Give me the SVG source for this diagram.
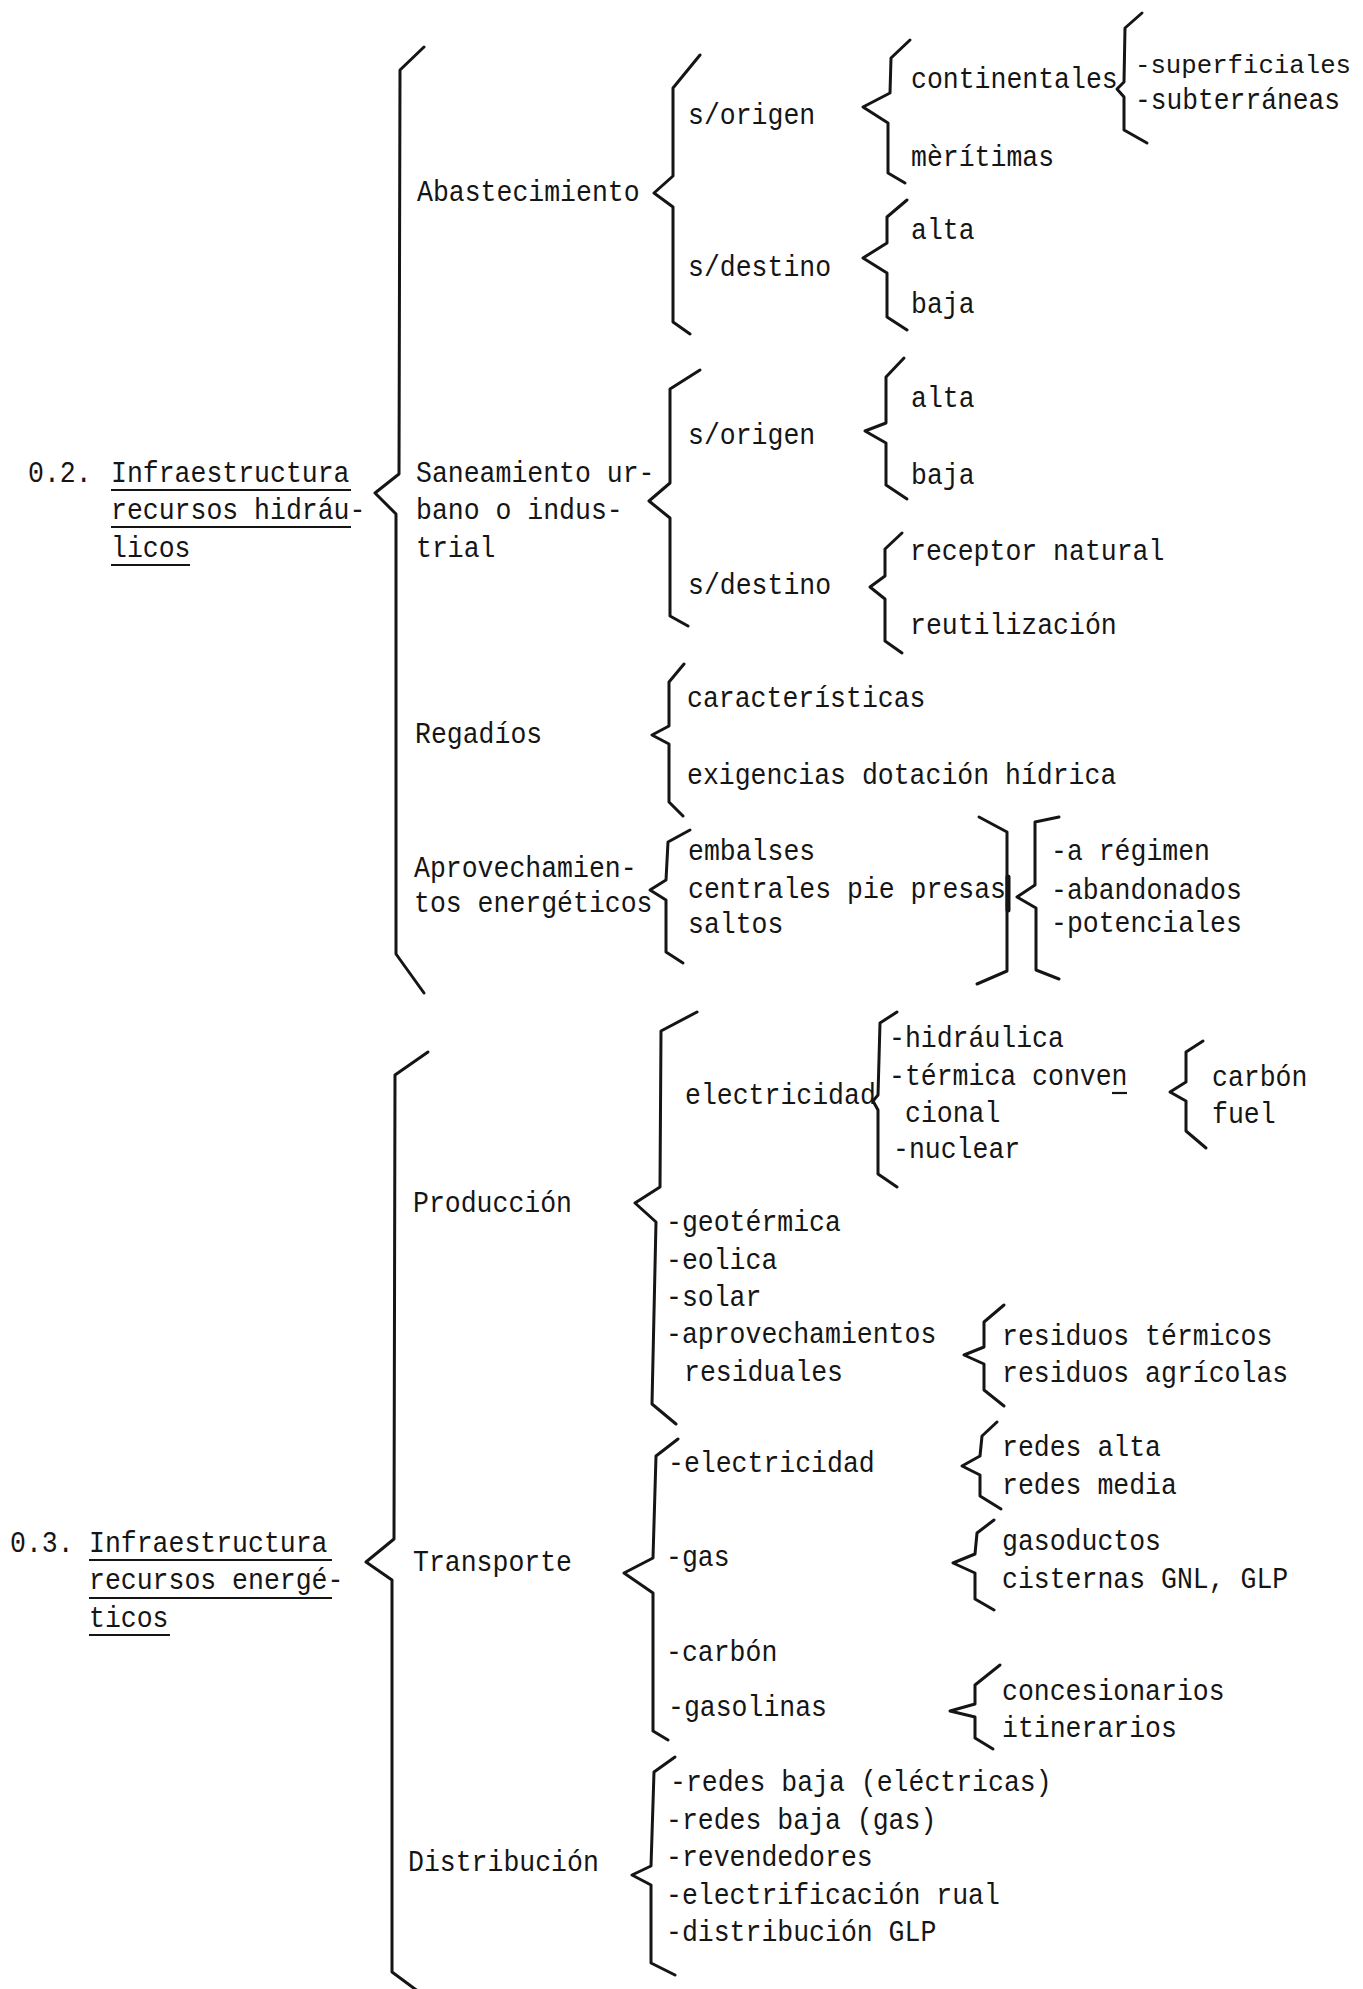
<svg xmlns="http://www.w3.org/2000/svg" width="1363" height="1989" viewBox="0 0 1363 1989">
<style>
text{font-family:"Liberation Mono","DejaVu Sans Mono",monospace;font-size:29px;fill:#151515}
.br{fill:none;stroke:#151515;stroke-width:3;stroke-linecap:round;stroke-linejoin:round}
.ul{stroke:#151515;stroke-width:2.2}
</style>
<rect width="1363" height="1989" fill="#fff"/>
<g id="connectors">
<path class="br" d="M424,47 L400,70 L399,474 L375,493 L396,514 L396,954 L424,993"/>
<path class="br" d="M700,55 L673,88 L673,176 L654,193 L673,207 L673,322 L690,334"/>
<path class="br" d="M910,40 L891,58 L890,93 L863,107 L888,123 L888,173 L905,183"/>
<path class="br" d="M1142,13 L1125,28 L1124,82 L1117,89 L1124,97 L1124,130 L1147,143"/>
<path class="br" d="M907,200 L887,217 L887,243 L863,258 L887,273 L887,317 L907,330"/>
<path class="br" d="M700,370 L670,389 L670,483 L649,501 L670,518 L670,616 L688,626"/>
<path class="br" d="M904,358 L886,377 L886,423 L865,431 L886,443 L886,485 L907,499"/>
<path class="br" d="M902,533 L885,549 L885,576 L870,587 L885,599 L885,641 L902,653"/>
<path class="br" d="M684,664 L669,682 L669,726 L652,735 L669,744 L669,802 L683,816"/>
<path class="br" d="M690,830 L668,842 L666,880 L650,890 L666,900 L666,952 L683,963"/>
<path class="br" d="M979,817 L1007,832 L1007,971 L977,984"/>
<path class="br" d="M1008,877 L1008,910" style="stroke-width:5"/>
<path class="br" d="M1059,817 L1035,822 L1035,885 L1017,897 L1036,908 L1036,970 L1059,979"/>
<path class="br" d="M428,1052 L395,1075 L394,1539 L366,1562 L392,1580 L392,1972 L419,1992"/>
<path class="br" d="M697,1012 L661,1031 L660,1187 L635,1203 L656,1222 L652,1404 L676,1424"/>
<path class="br" d="M897,1012 L880,1023 L878,1095 L873,1101 L878,1110 L878,1174 L897,1187"/>
<path class="br" d="M1203,1041 L1186,1052 L1186,1082 L1170,1092 L1186,1101 L1186,1131 L1206,1148"/>
<path class="br" d="M1004,1305 L984,1322 L984,1347 L964,1355 L984,1364 L984,1390 L1004,1406"/>
<path class="br" d="M678,1439 L656,1456 L653,1558 L624,1573 L653,1593 L653,1731 L668,1740"/>
<path class="br" d="M997,1422 L982,1436 L980,1456 L962,1466 L980,1475 L980,1496 L1001,1509"/>
<path class="br" d="M994,1520 L977,1533 L975,1554 L953,1563 L975,1573 L975,1599 L994,1610"/>
<path class="br" d="M1000,1665 L975,1685 L975,1704 L950,1711 L975,1717 L975,1738 L993,1749"/>
<path class="br" d="M675,1757 L654,1772 L651,1866 L632,1875 L651,1885 L651,1963 L675,1975"/>
</g>
<g id="n-02">
<text x="28" y="482" textLength="63.6" lengthAdjust="spacingAndGlyphs">0.2.</text>
<text x="111" y="482" textLength="238.5" lengthAdjust="spacingAndGlyphs">Infraestructura</text>
<text x="111" y="519" textLength="254.4" lengthAdjust="spacingAndGlyphs">recursos hidráu-</text>
<text x="111" y="557" textLength="79.5" lengthAdjust="spacingAndGlyphs">licos</text>
<line class="ul" x1="111" y1="490" x2="351" y2="490"/>
<line class="ul" x1="111" y1="527" x2="351" y2="527"/>
<line class="ul" x1="111" y1="565" x2="190" y2="565"/>
</g>
<g id="n-abastecimiento"><text x="417" y="201" textLength="222.6" lengthAdjust="spacingAndGlyphs">Abastecimiento</text></g>
<g id="n-origen1"><text x="688" y="124" textLength="127.2" lengthAdjust="spacingAndGlyphs">s/origen</text></g>
<g id="n-destino1"><text x="688" y="276" textLength="143.1" lengthAdjust="spacingAndGlyphs">s/destino</text></g>
<g id="n-continentales"><text x="911" y="88" textLength="206.7" lengthAdjust="spacingAndGlyphs">continentales</text></g>
<g id="n-maritimas"><text x="911" y="166" textLength="143.1" lengthAdjust="spacingAndGlyphs">mèrítimas</text></g>
<g id="n-superficiales"><text x="1135" y="73" style="font-size:26px" textLength="216" lengthAdjust="spacingAndGlyphs">-superficiales</text></g>
<g id="n-subterraneas"><text x="1135" y="109" textLength="205" lengthAdjust="spacingAndGlyphs">-subterráneas</text></g>
<g id="n-alta1"><text x="911" y="239" textLength="63.6" lengthAdjust="spacingAndGlyphs">alta</text></g>
<g id="n-baja1"><text x="911" y="313" textLength="63.6" lengthAdjust="spacingAndGlyphs">baja</text></g>
<g id="n-saneamiento">
<text x="416" y="482" textLength="238.5" lengthAdjust="spacingAndGlyphs">Saneamiento ur-</text>
<text x="416" y="519" textLength="206.7" lengthAdjust="spacingAndGlyphs">bano o indus-</text>
<text x="416" y="557" textLength="79.5" lengthAdjust="spacingAndGlyphs">trial</text>
</g>
<g id="n-origen2"><text x="688" y="444" textLength="127.2" lengthAdjust="spacingAndGlyphs">s/origen</text></g>
<g id="n-destino2"><text x="688" y="594" textLength="143.1" lengthAdjust="spacingAndGlyphs">s/destino</text></g>
<g id="n-alta2"><text x="911" y="407" textLength="63.6" lengthAdjust="spacingAndGlyphs">alta</text></g>
<g id="n-baja2"><text x="911" y="484" textLength="63.6" lengthAdjust="spacingAndGlyphs">baja</text></g>
<g id="n-receptor"><text x="910" y="560" textLength="254.4" lengthAdjust="spacingAndGlyphs">receptor natural</text></g>
<g id="n-reutilizacion"><text x="910" y="634" textLength="206.7" lengthAdjust="spacingAndGlyphs">reutilización</text></g>
<g id="n-regadios"><text x="415" y="743" textLength="127.2" lengthAdjust="spacingAndGlyphs">Regadíos</text></g>
<g id="n-caracteristicas"><text x="687" y="707" textLength="238.5" lengthAdjust="spacingAndGlyphs">características</text></g>
<g id="n-exigencias"><text x="687" y="784" textLength="429.3" lengthAdjust="spacingAndGlyphs">exigencias dotación hídrica</text></g>
<g id="n-aprovechamientos">
<text x="414" y="877" textLength="222.6" lengthAdjust="spacingAndGlyphs">Aprovechamien-</text>
<text x="414" y="912" textLength="238.5" lengthAdjust="spacingAndGlyphs">tos energéticos</text>
</g>
<g id="n-obras">
<text x="688" y="860" textLength="127.2" lengthAdjust="spacingAndGlyphs">embalses</text>
<text x="688" y="898" textLength="318" lengthAdjust="spacingAndGlyphs">centrales pie presas</text>
<text x="688" y="933" textLength="95.4" lengthAdjust="spacingAndGlyphs">saltos</text>
</g>
<g id="n-estado">
<text x="1051" y="860" textLength="159" lengthAdjust="spacingAndGlyphs">-a régimen</text>
<text x="1051" y="899" textLength="190.8" lengthAdjust="spacingAndGlyphs">-abandonados</text>
<text x="1051" y="932" textLength="190.8" lengthAdjust="spacingAndGlyphs">-potenciales</text>
</g>
<g id="n-03">
<text x="10" y="1552" textLength="63.6" lengthAdjust="spacingAndGlyphs">0.3.</text>
<text x="89" y="1552" textLength="238.5" lengthAdjust="spacingAndGlyphs">Infraestructura</text>
<text x="89" y="1589" textLength="254.4" lengthAdjust="spacingAndGlyphs">recursos energé-</text>
<text x="89" y="1627" textLength="79.5" lengthAdjust="spacingAndGlyphs">ticos</text>
<line class="ul" x1="89" y1="1560" x2="332" y2="1560"/>
<line class="ul" x1="89" y1="1598" x2="332" y2="1598"/>
<line class="ul" x1="89" y1="1635" x2="170" y2="1635"/>
</g>
<g id="n-produccion"><text x="413" y="1212" textLength="159" lengthAdjust="spacingAndGlyphs">Producción</text></g>
<g id="n-electricidad"><text x="685" y="1104" textLength="190.8" lengthAdjust="spacingAndGlyphs">electricidad</text></g>
<g id="n-tipos-elec">
<text x="889" y="1047" textLength="174.9" lengthAdjust="spacingAndGlyphs">-hidráulica</text>
<text x="889" y="1085" textLength="238.5" lengthAdjust="spacingAndGlyphs">-térmica conven</text>
<line class="ul" x1="1112" y1="1093" x2="1127" y2="1093"/>
<text x="905" y="1122" textLength="95.4" lengthAdjust="spacingAndGlyphs">cional</text>
<text x="893" y="1158" textLength="127.2" lengthAdjust="spacingAndGlyphs">-nuclear</text>
</g>
<g id="n-combustibles">
<text x="1212" y="1086" textLength="95.4" lengthAdjust="spacingAndGlyphs">carbón</text>
<text x="1212" y="1123" textLength="63.6" lengthAdjust="spacingAndGlyphs">fuel</text>
</g>
<g id="n-renovables">
<text x="666" y="1231" textLength="174.9" lengthAdjust="spacingAndGlyphs">-geotérmica</text>
<text x="666" y="1269" textLength="111.3" lengthAdjust="spacingAndGlyphs">-eolica</text>
<text x="666" y="1306" textLength="95.4" lengthAdjust="spacingAndGlyphs">-solar</text>
<text x="666" y="1343" textLength="270.3" lengthAdjust="spacingAndGlyphs">-aprovechamientos</text>
<text x="684" y="1381" textLength="159" lengthAdjust="spacingAndGlyphs">residuales</text>
</g>
<g id="n-residuos">
<text x="1002" y="1345" textLength="270.3" lengthAdjust="spacingAndGlyphs">residuos térmicos</text>
<text x="1002" y="1382" textLength="286.2" lengthAdjust="spacingAndGlyphs">residuos agrícolas</text>
</g>
<g id="n-transporte"><text x="413" y="1571" textLength="159" lengthAdjust="spacingAndGlyphs">Transporte</text></g>
<g id="n-t-electricidad"><text x="668" y="1472" textLength="206.7" lengthAdjust="spacingAndGlyphs">-electricidad</text></g>
<g id="n-t-gas"><text x="666" y="1566" textLength="63.6" lengthAdjust="spacingAndGlyphs">-gas</text></g>
<g id="n-t-carbon"><text x="666" y="1661" textLength="111.3" lengthAdjust="spacingAndGlyphs">-carbón</text></g>
<g id="n-t-gasolinas"><text x="668" y="1716" textLength="159" lengthAdjust="spacingAndGlyphs">-gasolinas</text></g>
<g id="n-redes">
<text x="1002" y="1456" textLength="159" lengthAdjust="spacingAndGlyphs">redes alta</text>
<text x="1002" y="1494" textLength="174.9" lengthAdjust="spacingAndGlyphs">redes media</text>
</g>
<g id="n-gasoductos">
<text x="1002" y="1550" textLength="159" lengthAdjust="spacingAndGlyphs">gasoductos</text>
<text x="1002" y="1588" textLength="286.2" lengthAdjust="spacingAndGlyphs">cisternas GNL, GLP</text>
</g>
<g id="n-concesionarios">
<text x="1002" y="1700" textLength="222.6" lengthAdjust="spacingAndGlyphs">concesionarios</text>
<text x="1002" y="1737" textLength="174.9" lengthAdjust="spacingAndGlyphs">itinerarios</text>
</g>
<g id="n-distribucion"><text x="408" y="1871" textLength="190.8" lengthAdjust="spacingAndGlyphs">Distribución</text></g>
<g id="n-d-items">
<text x="670" y="1791" textLength="381.6" lengthAdjust="spacingAndGlyphs">-redes baja (eléctricas)</text>
<text x="666" y="1829" textLength="270.3" lengthAdjust="spacingAndGlyphs">-redes baja (gas)</text>
<text x="666" y="1866" textLength="206.7" lengthAdjust="spacingAndGlyphs">-revendedores</text>
<text x="666" y="1904" textLength="333.9" lengthAdjust="spacingAndGlyphs">-electrificación rual</text>
<text x="666" y="1941" textLength="270.3" lengthAdjust="spacingAndGlyphs">-distribución GLP</text>
</g>
</svg>
